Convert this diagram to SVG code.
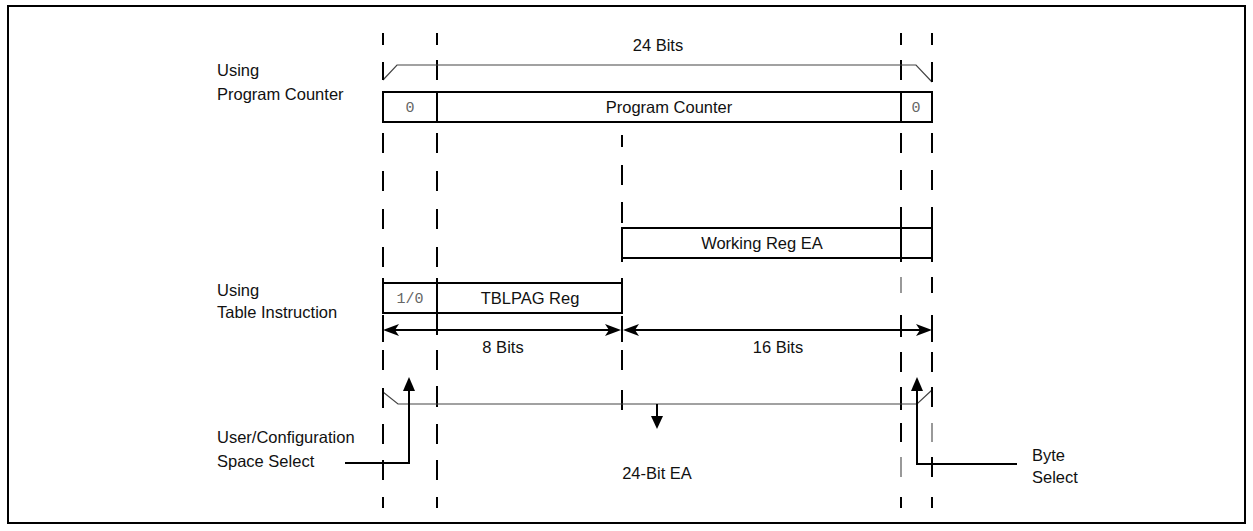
<svg xmlns="http://www.w3.org/2000/svg" width="1253" height="531" viewBox="0 0 1253 531">
<style>
text{font-family:"Liberation Sans",Arial,sans-serif;font-size:16.5px;fill:#111}
.mono{font-family:"Liberation Mono","Courier New",monospace;font-size:15px;fill:#666}
.c{text-anchor:middle}
.dash{stroke:#000;stroke-width:2;fill:none}
.thin{stroke:#555;stroke-width:1.2;fill:none}
.box{stroke:#000;stroke-width:2;fill:#fff}
.ln{stroke:#000;stroke-width:2;fill:none}
.br{stroke:#444;stroke-width:1.2;fill:none}
.ah{fill:#000;stroke:none}
</style>
<rect x="8" y="6" width="1237" height="517" fill="#fff" stroke="#000" stroke-width="2"/>
<g id="guides">
<path class="dash" d="M383 33V45M383 133V153M383 171V191M383 209V229M383 247V267M383 350V370M383 424V444M383 460V480M383 497V508"/>
<path class="dash" d="M437 33V45M437 60V80M437 133V153M437 171V191M437 209V229M437 247V267M437 350V370M437 386V407M437 424V444M437 460V480M437 497V508"/>
<path class="dash" d="M622 135V147M622 165V185M622 202V223M622 258V262M622 350V370M622 390V410"/>
<path class="dash" d="M901 33V45M901 60V80M901 133V153M901 170V190M901 207V227M901 258V262M901 352V372M901 387V410M901 423V442M901 497V508"/>
<path class="thin" d="M901 277V293M901 457V477"/>
<path class="dash" d="M932 33V45M932 133V153M932 170V190M932 207V227M932 258V262M932 277V293M932 352V372M932 457V477M932 497V508"/>
<path class="thin" d="M932 423V442"/>
</g>
<g id="bracket-top">
<path class="br" d="M383 80L397 65H916L932 82"/>
<path class="ln" d="M383 62V80M932 62V82"/>
<text class="c" x="658" y="51">24 Bits</text>
</g>
<g id="label-pc">
<text x="217" y="76">Using</text>
<text x="217" y="100">Program Counter</text>
</g>
<g id="program-counter">
<rect class="box" x="383" y="92" width="549" height="30"/>
<path class="ln" d="M437 92V122M901 92V122"/>
<text class="mono c" x="410" y="112">0</text>
<text class="c" x="669" y="113">Program Counter</text>
<text class="mono c" x="916" y="112">0</text>
</g>
<g id="working-reg">
<rect class="box" x="622" y="228" width="310" height="30"/>
<path class="ln" d="M901 228V258"/>
<text class="c" x="762" y="249">Working Reg EA</text>
</g>
<g id="label-table">
<text x="217" y="296">Using</text>
<text x="217" y="318">Table Instruction</text>
</g>
<g id="tblpag">
<rect class="box" x="383" y="283" width="239" height="30"/>
<path class="ln" d="M437 278V335M383 278V283M622 278V283"/>
<text class="mono c" x="410" y="303">1/0</text>
<text class="c" x="530" y="304">TBLPAG Reg</text>
</g>
<g id="connectors">
<path class="ln" d="M383 315V342M622 316V342M932 315V342M901 315V337"/>
<path class="ln" d="M390 330H615M630 330H925"/>
<path class="ah" d="M383 330L399 324L395 330L399 336Z"/>
<path class="ah" d="M621 330L605 324L609 330L605 336Z"/>
<path class="ah" d="M623 330L639 324L635 330L639 336Z"/>
<path class="ah" d="M932 330L916 324L920 330L916 336Z"/>
<path class="br" d="M383 392L398 404H917L932 390"/>
<path class="ln" d="M383 388V408M932 387V407"/>
<path class="ln" d="M657 404V420"/>
<path class="ah" d="M657 429L651 416L663 416Z"/>
<path class="ln" d="M345 463H409V388"/>
<path class="ah" d="M409 377L403 391L415 391Z"/>
<path class="ln" d="M1017 464H917V388"/>
<path class="ah" d="M917 377L911 391L923 391Z"/>
</g>
<g id="labels-bottom">
<text class="c" x="503" y="353">8 Bits</text>
<text class="c" x="778" y="353">16 Bits</text>
<text class="c" x="657" y="479">24-Bit EA</text>
<text x="217" y="443">User/Configuration</text>
<text x="217" y="467">Space Select</text>
<text x="1032" y="461">Byte</text>
<text x="1032" y="483">Select</text>
</g>
</svg>
